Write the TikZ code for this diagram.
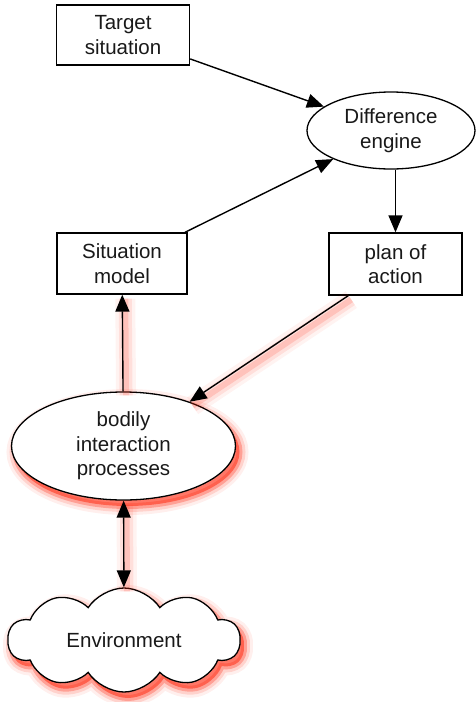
\documentclass[tikz,border=0pt]{standalone}
\usepackage{fontspec}
\setmainfont{Liberation Sans}
\usetikzlibrary{shapes.geometric, shapes.symbols, arrows.meta}

\definecolor{glowred}{RGB}{255, 45, 20}

\tikzset{
	glow/.style = {
		preaction = {fill = glowred, opacity = .55, transform canvas = {shift = {(4pt, -6pt)}}},
		preaction = {draw = glowred, line width = 18pt, opacity = .08, transform canvas = {shift = {(4pt, -6pt)}}},
		preaction = {draw = glowred, line width = 12pt, opacity = .15, transform canvas = {shift = {(4pt, -6pt)}}},
		preaction = {draw = glowred, line width = 6pt, opacity = .3, transform canvas = {shift = {(4pt, -6pt)}}}
	},
	glowline/.style = {
		preaction = {-, draw = glowred, line width = 20pt, opacity = .06, transform canvas = {shift = {(3pt, -4pt)}}},
		preaction = {-, draw = glowred, line width = 13pt, opacity = .1, transform canvas = {shift = {(3pt, -4pt)}}},
		preaction = {-, draw = glowred, line width = 6pt, opacity = .16, transform canvas = {shift = {(3pt, -4pt)}}}
	},
	link/.style = {line width = 1.4pt},
	box/.style = {draw, line width = 1.3pt, fill = white, rectangle, align = center, inner sep = 0pt},
	oval/.style = {draw, line width = 1.3pt, fill = white, ellipse, align = center, inner sep = 0pt},
	puff/.style = {draw, line width = 1.3pt, fill = white, cloud, cloud puffs = 10, cloud puff arc = 115,
		aspect = 2.2, cloud ignores aspect, align = center, inner sep = 0pt}
}

\begin{document}
\begin{tikzpicture}[x = 1pt, y = -1pt, >={Triangle[length=17pt 0 0,width=14pt 0 0]},
	every node/.style = {font = \fontsize{20.5}{24.5}\selectfont, text = black!90}]

	\useasboundingbox (0, 0) rectangle (476, 702);

	% Nodes

	\node [box, minimum width = 133pt, minimum height = 60pt] (target) at (123, 35) {Target\\situation};
	\node [oval, minimum width = 168pt, minimum height = 77pt] (diff) at (391, 130.5) {Difference\\engine};
	\node [box, minimum width = 130pt, minimum height = 61pt] (sit) at (122, 263.5) {Situation\\model};
	\node [box, minimum width = 133pt, minimum height = 62pt] (plan) at (395.5, 264) {plan of\\action};
	\node [oval, glow, minimum width = 224pt, minimum height = 108pt] (body) at (123.5, 446) {bodily\\interaction\\processes};
	\node [puff, glow, minimum width = 232pt, minimum height = 104pt] (env) at (124, 640) {Environment};

	% Connectors

	\draw [link, ->] (target) -- (diff);
	\draw [link, ->] (sit) -- (diff);
	\draw [link, ->] (diff.south -| plan.north) -- (plan.north);
	\draw [link, ->, glowline] (plan) -- (body);
	\draw [link, ->, glowline] (body) -- (sit);
	\draw [link, <->, glowline] (body) -- (env);

\end{tikzpicture}
\end{document}
